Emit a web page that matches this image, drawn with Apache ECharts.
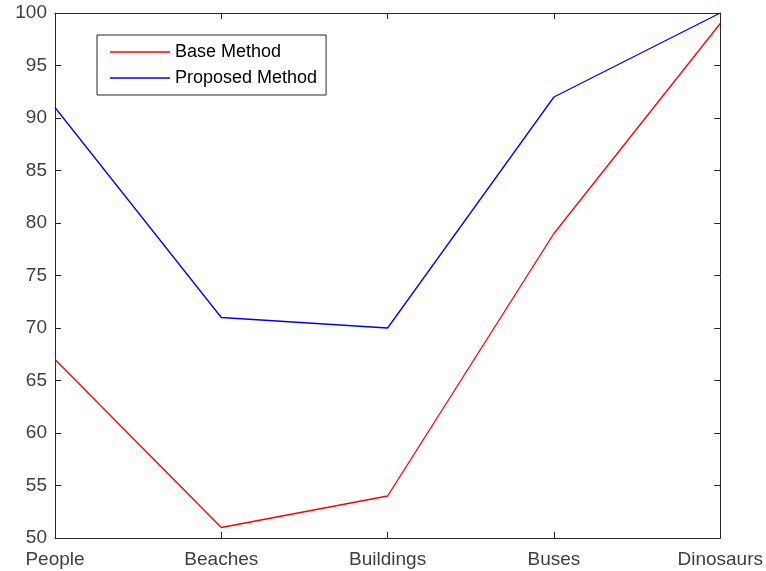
<!DOCTYPE html>
<html><head><meta charset="utf-8">
<script src="https://cdn.jsdelivr.net/npm/echarts@6/dist/echarts.min.js"></script>
<style>html,body{margin:0;padding:0;background:#fff}#c{width:766px;height:571px}</style>
</head><body><div id="c"></div>
<script>
var categories = ["People", "Beaches", "Buildings", "Buses", "Dinosaurs"];
var baseMethod = [67, 51, 54, 79, 99];
var proposedMethod = [91, 71, 70, 92, 100];
var seriesNames = ["Base Method", "Proposed Method"];

var axisColor = '#262626';
var labelColor = '#404040';
var font = 'Liberation Sans, Arial, sans-serif';
var chart = echarts.init(document.getElementById('c'));
chart.setOption({
  backgroundColor: '#fff',
  animation: false,
  grid: {left: 55, right: 43, top: 13, bottom: 33, containLabel: false},
  legend: {
    orient: 'vertical', left: 97, top: 35,
    data: seriesNames.map(function (n) { return {name: n, icon: 'rect'}; }),
    itemWidth: 60, itemHeight: 1.5, itemGap: 8,
    padding: [8, 9, 8, 13],
    borderColor: '#262626', borderWidth: 1, borderRadius: 0,
    backgroundColor: '#fff',
    textStyle: {fontFamily: font, fontSize: 18, color: '#000', lineHeight: 18}
  },
  xAxis: [{
    type: 'category', data: categories, boundaryGap: false,
    axisLine: {lineStyle: {color: axisColor}},
    axisTick: {inside: true, length: 6, lineStyle: {color: axisColor}},
    axisLabel: {fontFamily: font, fontSize: 19, color: labelColor, margin: 12},
    splitLine: {show: false}
  }, {
    type: 'category', data: categories, boundaryGap: false, position: 'top',
    axisLine: {lineStyle: {color: axisColor}},
    axisTick: {inside: true, length: 6, lineStyle: {color: axisColor}},
    axisLabel: {show: false}, splitLine: {show: false}
  }],
  yAxis: [{
    type: 'value', min: 50, max: 100, interval: 5,
    axisLine: {show: true, lineStyle: {color: axisColor}},
    axisTick: {show: true, inside: true, length: 6, lineStyle: {color: axisColor}},
    axisLabel: {fontFamily: font, fontSize: 19, color: labelColor, margin: 8, padding: [7, 0, 0, 0]},
    splitLine: {show: false}
  }, {
    type: 'value', min: 50, max: 100, interval: 5, position: 'right',
    axisLine: {show: true, lineStyle: {color: axisColor}},
    axisTick: {show: true, inside: true, length: 6, lineStyle: {color: axisColor}},
    axisLabel: {show: false}, splitLine: {show: false}
  }],
  series: [{
    name: seriesNames[0], type: 'line', data: baseMethod, symbol: 'none',
    lineStyle: {color: '#ff0000', width: 1.3}, itemStyle: {color: '#ff0000'}
  }, {
    name: seriesNames[1], type: 'line', data: proposedMethod, symbol: 'none',
    lineStyle: {color: '#0000ff', width: 1.3}, itemStyle: {color: '#0000ff'}
  }]
});
</script></body></html>
